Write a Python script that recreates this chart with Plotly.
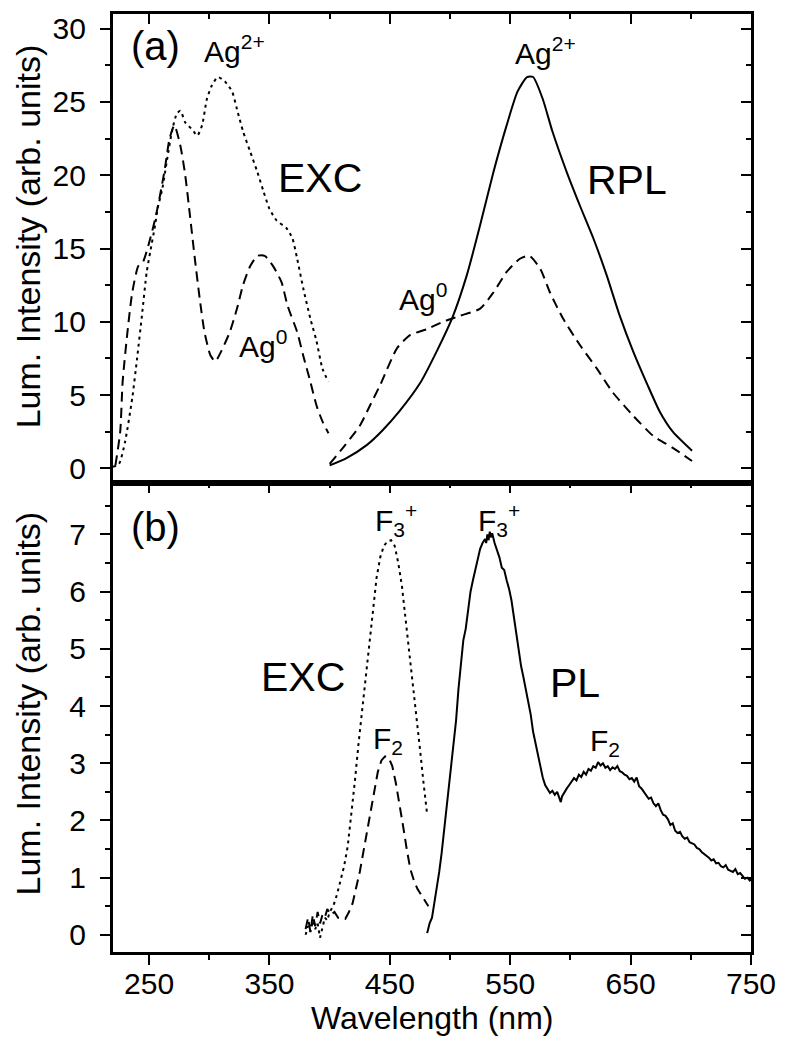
import plotly.graph_objects as go

# ---------------- data: panel (a) ----------------
exc_ag2_x = [220, 225, 230, 236, 240, 244, 248, 251, 255, 257, 261, 265, 269, 273, 276, 280, 286, 290, 294,
             298, 302, 307, 313, 319, 323, 328, 334, 340, 345, 350, 356, 364, 369, 373, 378, 384, 389, 394, 399]
exc_ag2_y = [0.1, 0.3, 1.8, 4.8, 7.5, 10.4, 13.4, 14.8, 16.6, 17.7, 19.1, 21.1, 23.0, 24.2, 24.4, 23.6, 23.1, 22.7, 23.4,
             25.2, 26.1, 26.7, 26.4, 25.7, 24.5, 23.0, 21.6, 20.2, 18.9, 17.7, 16.9, 16.4, 15.7, 14.3, 12.3, 10.2, 8.7, 6.8, 5.9]

exc_ag0_x = [222, 226, 228, 232, 236, 241, 245, 251, 255, 259, 263, 267, 271, 276, 280, 284, 288, 292, 296,
             301, 305, 310, 317, 323, 328, 334, 340, 346, 353, 360, 365, 373, 378, 384, 389, 394, 399]
exc_ag0_y = [0.2, 2.5, 5.9, 9.3, 12.0, 13.8, 14.1, 15.7, 17.0, 18.6, 20.4, 22.5, 23.4, 22.0, 20.0, 17.2, 14.3, 11.6, 9.3,
             7.7, 7.3, 8.0, 9.3, 10.9, 12.5, 13.8, 14.5, 14.5, 13.8, 12.7, 11.1, 9.3, 7.7, 5.9, 4.3, 3.2, 2.4]

rpl_ag2_x = [400, 414, 431, 444, 458, 475, 489, 502, 514, 525, 536, 547, 556, 564, 569, 577, 585, 597, 608,
             619, 630, 641, 652, 664, 674, 685, 701]
rpl_ag2_y = [0.2, 0.7, 1.6, 2.6, 3.9, 5.8, 8.0, 10.3, 13.2, 16.6, 20.2, 23.4, 25.7, 26.7, 26.7, 25.2, 23.0, 20.2, 17.9,
             15.7, 13.2, 10.4, 8.0, 5.7, 3.9, 2.5, 1.2]

rpl_ag0_x = [400, 412, 425, 433, 442, 456, 467, 481, 494, 508, 525, 536, 547, 558, 566, 575, 583, 594, 608,
             622, 635, 652, 669, 685, 701]
rpl_ag0_y = [0.3, 1.5, 2.9, 4.2, 5.7, 8.2, 9.1, 9.5, 10.0, 10.4, 10.9, 12.0, 13.4, 14.3, 14.5, 13.6, 12.0, 10.2, 8.4,
             6.8, 5.2, 3.6, 2.2, 1.4, 0.5]

# ---------------- data: panel (b) ----------------
exc_f3_x = [380, 382, 384, 386, 388, 390, 392, 394, 396, 398, 400, 403, 406, 409, 412, 415, 418, 421, 424, 427,
            430, 433, 436, 439, 442, 445, 448, 451, 454, 457, 460, 463, 466, 469, 472, 475, 478, 481]
exc_f3_y = [0.0, 0.15, 0.05, 0.25, 0.1, 0.2, -0.05, 0.15, 0.3, 0.25, 0.4, 0.5, 0.7, 0.95, 1.2, 1.55, 2.1, 2.7, 3.35, 3.95,
            4.5, 5.1, 5.75, 6.25, 6.6, 6.8, 6.88, 6.9, 6.8, 6.5, 6.1, 5.55, 5.0, 4.4, 3.8, 3.25, 2.65, 2.1]

exc_f2_x = [380, 382, 384, 386, 388, 390, 392, 394, 396, 398, 401, 404, 407, 410, 413, 416, 419, 422, 425, 428,
            431, 434, 437, 440, 443, 446, 449, 452, 455, 458, 461, 464, 467, 470, 473, 476, 479, 482]
exc_f2_y = [0.1, 0.3, 0.05, 0.35, 0.15, 0.4, 0.2, 0.35, 0.3, 0.45, 0.35, 0.4, 0.3, 0.3, 0.28, 0.4, 0.55, 0.8, 1.1, 1.45,
            1.8, 2.15, 2.5, 2.85, 3.05, 3.12, 3.1, 2.95, 2.65, 2.3, 1.9, 1.5, 1.15, 0.95, 0.8, 0.7, 0.6, 0.5]

pl_x = [481, 483, 485, 487, 489, 491, 493, 495, 497, 499, 501, 503, 505, 507, 509, 511, 513, 515, 517, 519,
        521, 523, 525, 527, 529, 530, 531, 532, 533, 534, 535, 537, 539, 541, 543, 545, 547, 549, 551, 553,
        555, 557, 559, 561, 563, 565, 567, 569, 571, 573, 575, 577, 579, 581, 583, 585, 587, 589, 591, 592,
        593, 595, 597, 599, 601, 603, 605, 607, 609, 611, 613, 615, 617, 619, 621, 623, 625, 627, 629, 631,
        633, 635, 637, 639, 641, 643, 645, 647, 649, 651, 653, 655, 657, 659, 661, 663, 665, 667, 669, 671,
        673, 675, 677, 679, 681, 683, 685, 687, 689, 691, 693, 695, 697, 699, 701, 703, 705, 707, 709, 711,
        713, 715, 717, 719, 721, 723, 725, 727, 729, 731, 733, 735, 737, 739, 741, 743, 745, 747, 749, 750]
pl_y = [0.03, 0.2, 0.3, 0.55, 0.8, 1.1, 1.43, 1.8, 2.2, 2.65, 3.0, 3.35, 3.75, 4.3, 4.75, 5.15, 5.35, 5.7, 6.0, 6.2,
        6.4, 6.6, 6.75, 6.85, 6.92, 6.85, 7.0, 6.9, 7.05, 6.95, 7.02, 6.85, 6.72, 6.6, 6.42, 6.38, 6.2, 6.05, 5.85, 5.55,
        5.25, 4.95, 4.7, 4.5, 4.3, 4.05, 3.85, 3.55, 3.35, 3.1, 2.9, 2.75, 2.62, 2.55, 2.48, 2.52, 2.45, 2.5, 2.38, 2.32,
        2.42, 2.5, 2.56, 2.62, 2.68, 2.74, 2.7, 2.8, 2.76, 2.85, 2.8, 2.9, 2.87, 2.95, 2.92, 3.02, 2.96, 3.0, 2.92, 2.95,
        2.88, 2.93, 2.9, 2.95, 2.86, 2.84, 2.8, 2.78, 2.72, 2.74, 2.68, 2.75, 2.6, 2.56, 2.5, 2.45, 2.38, 2.4, 2.3, 2.25,
        2.3, 2.18, 2.1, 2.08, 2.02, 1.92, 1.95, 1.82, 1.78, 1.8, 1.72, 1.68, 1.7, 1.62, 1.6, 1.58, 1.52, 1.5, 1.45, 1.42,
        1.38, 1.35, 1.3, 1.32, 1.25, 1.26, 1.2, 1.18, 1.22, 1.14, 1.12, 1.1, 1.15, 1.06, 1.08, 1.02, 0.98, 1.0, 0.95, 0.97]

x_ticks = [250, 350, 450, 550, 650, 750]
x_range = [220, 750]
ya_range = [-1, 31]
yb_range = [-0.3, 7.9]

FONT = "Arial, Liberation Sans, sans-serif"
BLACK = "#000000"
DOT = "3px,4px"
DASH = "10px,6px"
YSUFFIX = "\u00a0"  # small gap between y tick labels and ticks

fig = go.Figure()

def line(x, y, xa, ya, dash, shape="spline"):
    fig.add_trace(go.Scatter(x=x, y=y, xaxis=xa, yaxis=ya, mode="lines", showlegend=False,
                             hoverinfo="skip",
                             line=dict(color=BLACK, width=2, dash=dash, shape=shape, smoothing=0.6)))

# panel (a): x2 / y2
line(exc_ag2_x, exc_ag2_y, "x2", "y2", DOT)
line(exc_ag0_x, exc_ag0_y, "x2", "y2", DASH)
line(rpl_ag2_x, rpl_ag2_y, "x2", "y2", "solid")
line(rpl_ag0_x, rpl_ag0_y, "x2", "y2", DASH)
# panel (b): x / y
line(exc_f3_x, exc_f3_y, "x", "y", DOT, "linear")
line(exc_f2_x, exc_f2_y, "x", "y", DASH, "linear")
line(pl_x, pl_y, "x", "y", "solid", "linear")

# dummy traces so the mirror-tick overlay axes are drawn
for xa, ya in [("x3", "y"), ("x", "y3"), ("x4", "y2"), ("x2", "y4")]:
    fig.add_trace(go.Scatter(x=[None], y=[None], xaxis=xa, yaxis=ya, showlegend=False, hoverinfo="skip"))

LW = 2.5
tickfont = dict(family=FONT, size=30, color=BLACK)
common_x = dict(range=x_range, tickvals=x_ticks, showgrid=False, zeroline=False, linecolor=BLACK,
                linewidth=LW, tickcolor=BLACK, tickwidth=2, ticklen=10, automargin=False,
                minor=dict(dtick=50, tick0=200, ticklen=5, tickwidth=2, tickcolor=BLACK, showgrid=False))

def yax(rng, dt, mdt, domain, anchor, **kw):
    d = dict(range=rng, dtick=dt, tick0=0, domain=domain, anchor=anchor, showgrid=False, zeroline=False,
             linecolor=BLACK, linewidth=LW, tickcolor=BLACK, tickwidth=2, ticklen=10, automargin=False,
             minor=dict(dtick=mdt, tick0=0, ticklen=5, tickwidth=2, tickcolor=BLACK, showgrid=False))
    d.update(kw)
    return d

# The page body has an 8px margin; offset the figure so the plot area lands where the reference has it.
fig.update_layout(
    width=778, height=1031,
    margin=dict(l=105, r=35, t=6, b=87),
    paper_bgcolor="white", plot_bgcolor="white",
    font=dict(family=FONT, color=BLACK),
    xaxis=dict(common_x, domain=[0, 1], anchor="y", ticks="outside", showline=True, mirror=True,
               tickfont=tickfont, ticklabelstandoff=-7, ticklabeloverflow="allow"),
    yaxis=yax(yb_range, 1, 0.5, [0, 0.5], "x", ticks="outside", showline=True, mirror=True,
              tickfont=tickfont, ticksuffix=YSUFFIX),
    xaxis2=dict(common_x, domain=[0, 1], anchor="y2", ticks="", showticklabels=False, showline=True,
                mirror=True, minor=dict(ticks="")),
    yaxis2=yax(ya_range, 5, 2.5, [0.5, 1], "x2", ticks="outside", showline=True, mirror=True,
               tickfont=tickfont, ticksuffix=YSUFFIX),
    xaxis3=dict(common_x, overlaying="x", anchor="y", side="top", ticks="inside", showticklabels=False,
                showline=False),
    xaxis4=dict(common_x, overlaying="x2", anchor="y2", side="top", ticks="inside", showticklabels=False,
                showline=False),
    yaxis3=yax(yb_range, 1, 0.5, [0, 0.5], "x", overlaying="y", side="right", ticks="inside",
               showticklabels=False, showline=False),
    yaxis4=yax(ya_range, 5, 2.5, [0.5, 1], "x2", overlaying="y2", side="right", ticks="inside",
               showticklabels=False, showline=False),
)
fig.layout.xaxis3.minor.ticks = "inside"
fig.layout.xaxis4.minor.ticks = "inside"
fig.layout.yaxis3.minor.ticks = "inside"
fig.layout.yaxis4.minor.ticks = "inside"
fig.layout.xaxis.minor.ticks = "outside"
fig.layout.yaxis.minor.ticks = "outside"
fig.layout.yaxis2.minor.ticks = "outside"

# plot area in paper coords: x 0..1 == 638 px, y 0..1 == 938 px
fig.add_annotation(text="Wavelength (nm)", xref="paper", yref="paper", x=0.5, y=-0.0704,
                   showarrow=False, xanchor="center", yanchor="middle",
                   font=dict(family=FONT, size=32, color=BLACK))
for yc in [0.763, 0.265]:
    fig.add_annotation(text="Lum. Intensity (arb. units)", xref="paper", yref="paper", x=-0.1332, y=yc,
                       textangle=-90, showarrow=False, xanchor="center", yanchor="middle",
                       font=dict(family=FONT, size=34, color=BLACK))

def ann(text, x, y, xref, yref, size):
    fig.add_annotation(text=text, x=x, y=y, xref=xref, yref=yref, showarrow=False,
                       xanchor="center", yanchor="middle",
                       font=dict(family=FONT, size=size, color=BLACK))

# panel (a)
ann("(a)", 255.7, 28.85, "x2", "y2", 40)
ann("Ag<sup>2+</sup>", 321.3, 28.6, "x2", "y2", 30)
ann("EXC", 392, 19.8, "x2", "y2", 41)
ann("Ag<sup>0</sup>", 344.6, 8.5, "x2", "y2", 30)
ann("Ag<sup>2+</sup>", 578.9, 28.5, "x2", "y2", 30)
ann("RPL", 647, 19.7, "x2", "y2", 41)
ann("Ag<sup>0</sup>", 477.5, 11.7, "x2", "y2", 30)
# panel (b)
ann("(b)", 255.7, 7.13, "x", "y", 40)
ann("F<sub>3</sub><sup>+</sup>", 455, 7.25, "x", "y", 30)
ann("EXC", 377.8, 4.5, "x", "y", 41)
ann("F<sub>2</sub>", 448.4, 3.4, "x", "y", 30)
ann("F<sub>3</sub><sup>+</sup>", 540.6, 7.26, "x", "y", 30)
ann("PL", 603.8, 4.41, "x", "y", 41)
ann("F<sub>2</sub>", 628.7, 3.36, "x", "y", 30)

fig.write_html("out.html")
